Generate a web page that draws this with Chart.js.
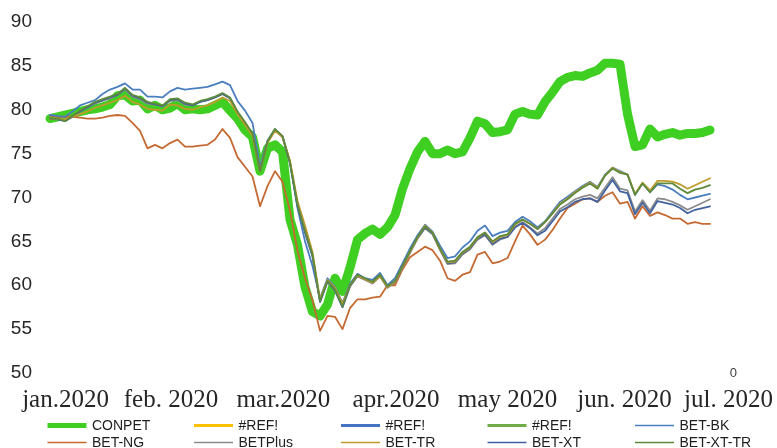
<!DOCTYPE html>
<html>
<head>
<meta charset="utf-8">
<script src="https://cdn.jsdelivr.net/npm/chart.js@4.4.1/dist/chart.umd.min.js"></script>
<style>
  html, body { margin: 0; padding: 0; background: #ffffff; }
  #wrap { width: 777px; height: 448px; position: relative; }
</style>
</head>
<body>
<div id="wrap"><canvas id="c" width="777" height="448"></canvas></div>
<script>
// Month labels and the session index each one sits under
const monthLabels = ['jan.2020', 'feb. 2020', 'mar.2020', 'apr.2020', 'may 2020', 'jun. 2020', 'jul. 2020'];
const monthTicks = [2.07, 16.13, 31.13, 46.13, 61, 76.6, 90.47];

// Index levels, one value per sampled session (Jan - Jul 2020)
const conpet = [79.0,79.2,79.4,79.6,79.8,80.0,80.1,80.3,80.6,81.6,81.7,81.0,81.1,80.1,80.5,80.0,80.2,80.7,80.0,80.1,
  80.0,80.1,80.5,80.9,79.9,79.0,77.7,76.9,73.0,75.6,76.0,75.2,67.5,64.6,59.8,57.0,56.5,57.8,60.8,59.3,
  62.0,65.2,65.9,66.4,65.8,66.6,68.0,71.0,73.3,75.2,76.4,75.0,75.0,75.4,75.0,75.2,76.8,78.7,78.4,77.4,
  77.5,77.7,79.5,79.8,79.5,79.4,80.9,82.0,83.2,83.7,83.9,83.8,84.2,84.5,85.3,85.3,85.2,79.5,75.8,76.0,
  77.8,76.9,77.2,77.4,77.1,77.3,77.3,77.4,77.7];
const refA = [];
const refB = [];
const refC = [];
const betBK = [79.4,79.3,79.2,79.8,80.5,80.8,81.1,81.8,82.3,82.6,83.0,82.3,82.3,81.5,81.5,81.4,82.1,82.5,82.3,82.4,
  82.5,82.6,82.9,83.2,82.8,81.0,79.9,78.5,73.5,76.5,77.8,77.0,74.0,68.8,65.0,62.2,58.5,60.8,59.8,58.0,
  60.2,61.3,60.8,60.6,61.4,60.0,60.8,62.5,64.2,65.7,66.9,66.1,64.5,63.1,63.3,64.3,65.0,66.2,66.8,65.6,
  66.0,66.2,67.2,67.8,67.3,66.6,67.3,68.4,69.5,70.1,70.7,71.3,71.8,71.2,72.6,73.4,73.0,72.6,70.3,71.6,
  70.6,71.5,71.3,70.9,70.3,69.8,70.0,70.2,70.4];
const betNG = [79.3,79.2,79.2,79.2,79.1,79.0,79.0,79.1,79.3,79.4,79.3,78.5,77.6,75.6,76.0,75.6,76.2,76.6,75.8,75.8,
  75.9,76.0,76.6,77.8,76.8,74.6,73.5,72.4,69.0,71.3,73.0,71.8,68.5,63.9,60.8,58.3,54.8,56.5,56.4,55.0,
  57.4,58.4,58.4,58.6,58.7,60.0,60.0,61.8,63.2,63.8,64.4,64.0,62.8,60.8,60.5,61.2,61.5,63.5,63.8,62.5,
  62.7,63.1,65.0,66.8,65.8,64.6,65.2,66.3,67.6,68.8,69.3,69.8,69.9,69.5,70.2,70.6,69.3,69.5,67.6,69.0,
  67.9,68.3,68.0,67.6,67.6,67.0,67.2,67.0,67.0];
const betPlus = [79.0,79.0,78.8,79.2,79.8,80.3,80.7,81.0,81.3,81.7,82.3,81.5,81.2,80.7,80.6,80.4,81.0,81.1,80.6,80.5,
  80.9,81.1,81.4,81.8,81.3,79.7,78.5,77.2,73.1,76.3,77.7,76.9,73.9,69.1,66.0,63.3,58.1,60.4,59.4,57.5,
  59.9,61.0,60.6,60.2,61.0,59.7,60.3,62.0,63.7,65.3,66.5,65.8,64.0,62.4,62.5,63.5,64.1,65.2,65.7,64.6,
  65.2,65.5,66.6,67.2,66.6,65.9,66.5,67.6,68.7,69.2,69.8,70.1,70.3,69.9,71.1,72.3,71.0,70.8,68.4,69.7,
  68.5,69.9,69.8,69.5,69.1,68.6,69.0,69.4,69.8];
const betTR = [79.0,79.0,78.9,79.2,79.5,79.8,80.2,80.5,80.8,81.1,81.6,80.9,80.6,80.1,80.0,79.9,80.6,80.5,80.1,80.0,
  80.3,80.5,80.9,81.4,81.0,79.5,78.3,77.0,73.0,76.2,77.6,76.9,74.2,69.6,66.8,63.8,58.4,60.6,59.7,57.9,
  60.0,61.1,60.7,60.3,61.0,59.8,60.4,62.1,63.8,65.4,66.8,66.0,64.1,62.6,62.7,63.7,64.3,65.4,66.0,64.9,
  65.5,65.7,66.9,67.5,67.0,66.4,67.2,68.2,69.3,69.9,70.6,71.2,71.7,71.1,72.5,73.4,72.9,72.6,70.4,71.7,
  70.8,71.9,71.9,71.8,71.5,71.0,71.4,71.8,72.2];
const betXT = [79.0,78.9,78.7,79.2,79.8,80.3,80.8,81.1,81.4,81.7,82.4,81.6,81.3,80.8,80.6,80.4,81.1,81.2,80.7,80.5,
  80.9,81.1,81.4,81.8,81.3,79.7,78.5,77.2,73.0,76.3,77.7,76.9,73.9,69.0,66.0,63.3,58.1,60.4,59.4,57.5,
  59.9,61.1,60.7,60.3,61.1,59.8,60.4,62.1,63.8,65.4,66.6,65.9,64.1,62.5,62.6,63.6,64.2,65.3,65.8,64.7,
  65.3,65.5,66.6,67.1,66.5,65.7,66.2,67.3,68.4,68.9,69.5,69.8,69.9,69.5,70.8,72.0,70.7,70.5,68.1,69.4,
  68.2,69.6,69.4,69.2,68.8,68.2,68.6,68.8,69.0];
const betXTTR = [79.0,79.0,78.7,79.3,79.9,80.4,80.9,81.2,81.5,81.8,82.5,81.7,81.4,80.9,80.7,80.5,81.2,81.3,80.8,80.6,
  81.0,81.2,81.5,81.9,81.4,79.8,78.6,77.3,73.0,76.4,77.8,77.0,74.0,69.2,66.2,63.5,58.2,60.5,59.5,57.6,
  60.0,61.2,60.8,60.4,61.2,59.9,60.5,62.2,63.9,65.5,66.7,66.0,64.2,62.7,62.8,63.8,64.4,65.5,66.0,65.0,
  65.6,65.8,67.0,67.5,67.0,66.4,67.2,68.2,69.2,69.8,70.5,71.1,71.6,71.0,72.5,73.3,72.8,72.6,70.3,71.6,
  70.6,71.6,71.6,71.6,71.0,70.5,70.9,71.1,71.4];

const toPoints = arr => arr.map((v, i) => ({ x: i, y: v }));

function series(label, values, color, width, legendWidth, order) {
  return {
    label,
    data: toPoints(values),
    borderColor: color,
    backgroundColor: color,
    borderWidth: width,
    legendWidth,
    order,
    pointRadius: 0,
    pointHoverRadius: 0,
    tension: 0,
    fill: false,
    borderJoinStyle: 'round',
    borderCapStyle: 'round'
  };
}

const datasets = [
  series('CONPET', conpet, '#3fcf23', 9, 5, 20),
  series('#REF!', refA, '#ffc000', 3, 3, 19),
  series('#REF!', refB, '#4472c4', 3, 3, 18),
  series('#REF!', refC, '#70ad47', 3, 3, 17),
  series('BET-BK', betBK, '#4a7fbf', 1.8, 1.6, 15),
  series('BET-NG', betNG, '#c46a32', 1.8, 1.6, 16),
  series('BETPlus', betPlus, '#8c8c8c', 1.8, 1.6, 14),
  series('BET-TR', betTR, '#c09b2d', 1.8, 1.6, 12),
  series('BET-XT', betXT, '#41639f', 1.8, 1.6, 13),
  series('BET-XT-TR', betXTTR, '#5e8b3b', 1.8, 1.6, 11)
];

// Legend laid out as a fixed grid of five columns under the axis labels
const gridLegend = {
  id: 'gridLegend',
  afterDraw(chart) {
    const ctx = chart.ctx;
    const colX = [47.5, 194, 341, 487.5, 635];
    const rowY = [425.5, 442.5];
    ctx.save();
    ctx.font = '14px "Liberation Sans", Arial, sans-serif';
    ctx.textBaseline = 'middle';
    ctx.textAlign = 'left';
    chart.data.datasets.forEach((ds, k) => {
      const x = colX[k % 5];
      const y = rowY[Math.floor(k / 5)];
      ctx.strokeStyle = ds.borderColor;
      ctx.lineWidth = ds.legendWidth;
      ctx.lineCap = 'butt';
      ctx.beginPath();
      ctx.moveTo(x, y);
      ctx.lineTo(x + 39, y);
      ctx.stroke();
      ctx.fillStyle = '#1e1e1e';
      ctx.fillText(ds.label, x + 44.5, y + 0.5);
    });
    ctx.restore();
  }
};

new Chart(document.getElementById('c').getContext('2d'), {
  type: 'line',
  data: { datasets },
  options: {
    responsive: false,
    animation: false,
    events: [],
    layout: { padding: { top: 22, bottom: 36, left: 0, right: 39 } },
    plugins: { legend: { display: false }, tooltip: { enabled: false } },
    scales: {
      x: {
        type: 'linear',
        min: -1.0667,
        max: 91.73,
        grid: { display: false, drawTicks: false },
        border: { display: false },
        afterBuildTicks: s => { s.ticks = monthTicks.map(v => ({ value: v })); },
        afterFit: s => { s.height = 39; s.paddingLeft = 0; s.paddingRight = 0; },
        ticks: {
          autoSkip: false,
          maxRotation: 0,
          padding: 12,
          color: '#262626',
          font: { family: '"Liberation Serif", "Times New Roman", serif', size: 25 },
          callback: (v, i) => monthLabels[i]
        }
      },
      y: {
        min: 50,
        max: 90,
        grid: { display: false, drawTicks: false },
        border: { display: false },
        afterFit: s => { s.width = 42; },
        ticks: {
          stepSize: 5,
          padding: 10,
          color: '#262626',
          font: { family: '"Liberation Sans", Arial, sans-serif', size: 19 }
        }
      },
      y2: {
        position: 'right',
        min: 0,
        max: 1,
        grid: { display: false, drawTicks: false },
        border: { display: false },
        afterBuildTicks: s => { s.ticks = [{ value: 0 }]; },
        afterFit: s => { s.width = 0; },
        ticks: {
          mirror: true,
          padding: -1,
          color: '#404040',
          font: { family: '"Liberation Sans", Arial, sans-serif', size: 13 }
        }
      }
    }
  },
  plugins: [gridLegend]
});
</script>
</body>
</html>
